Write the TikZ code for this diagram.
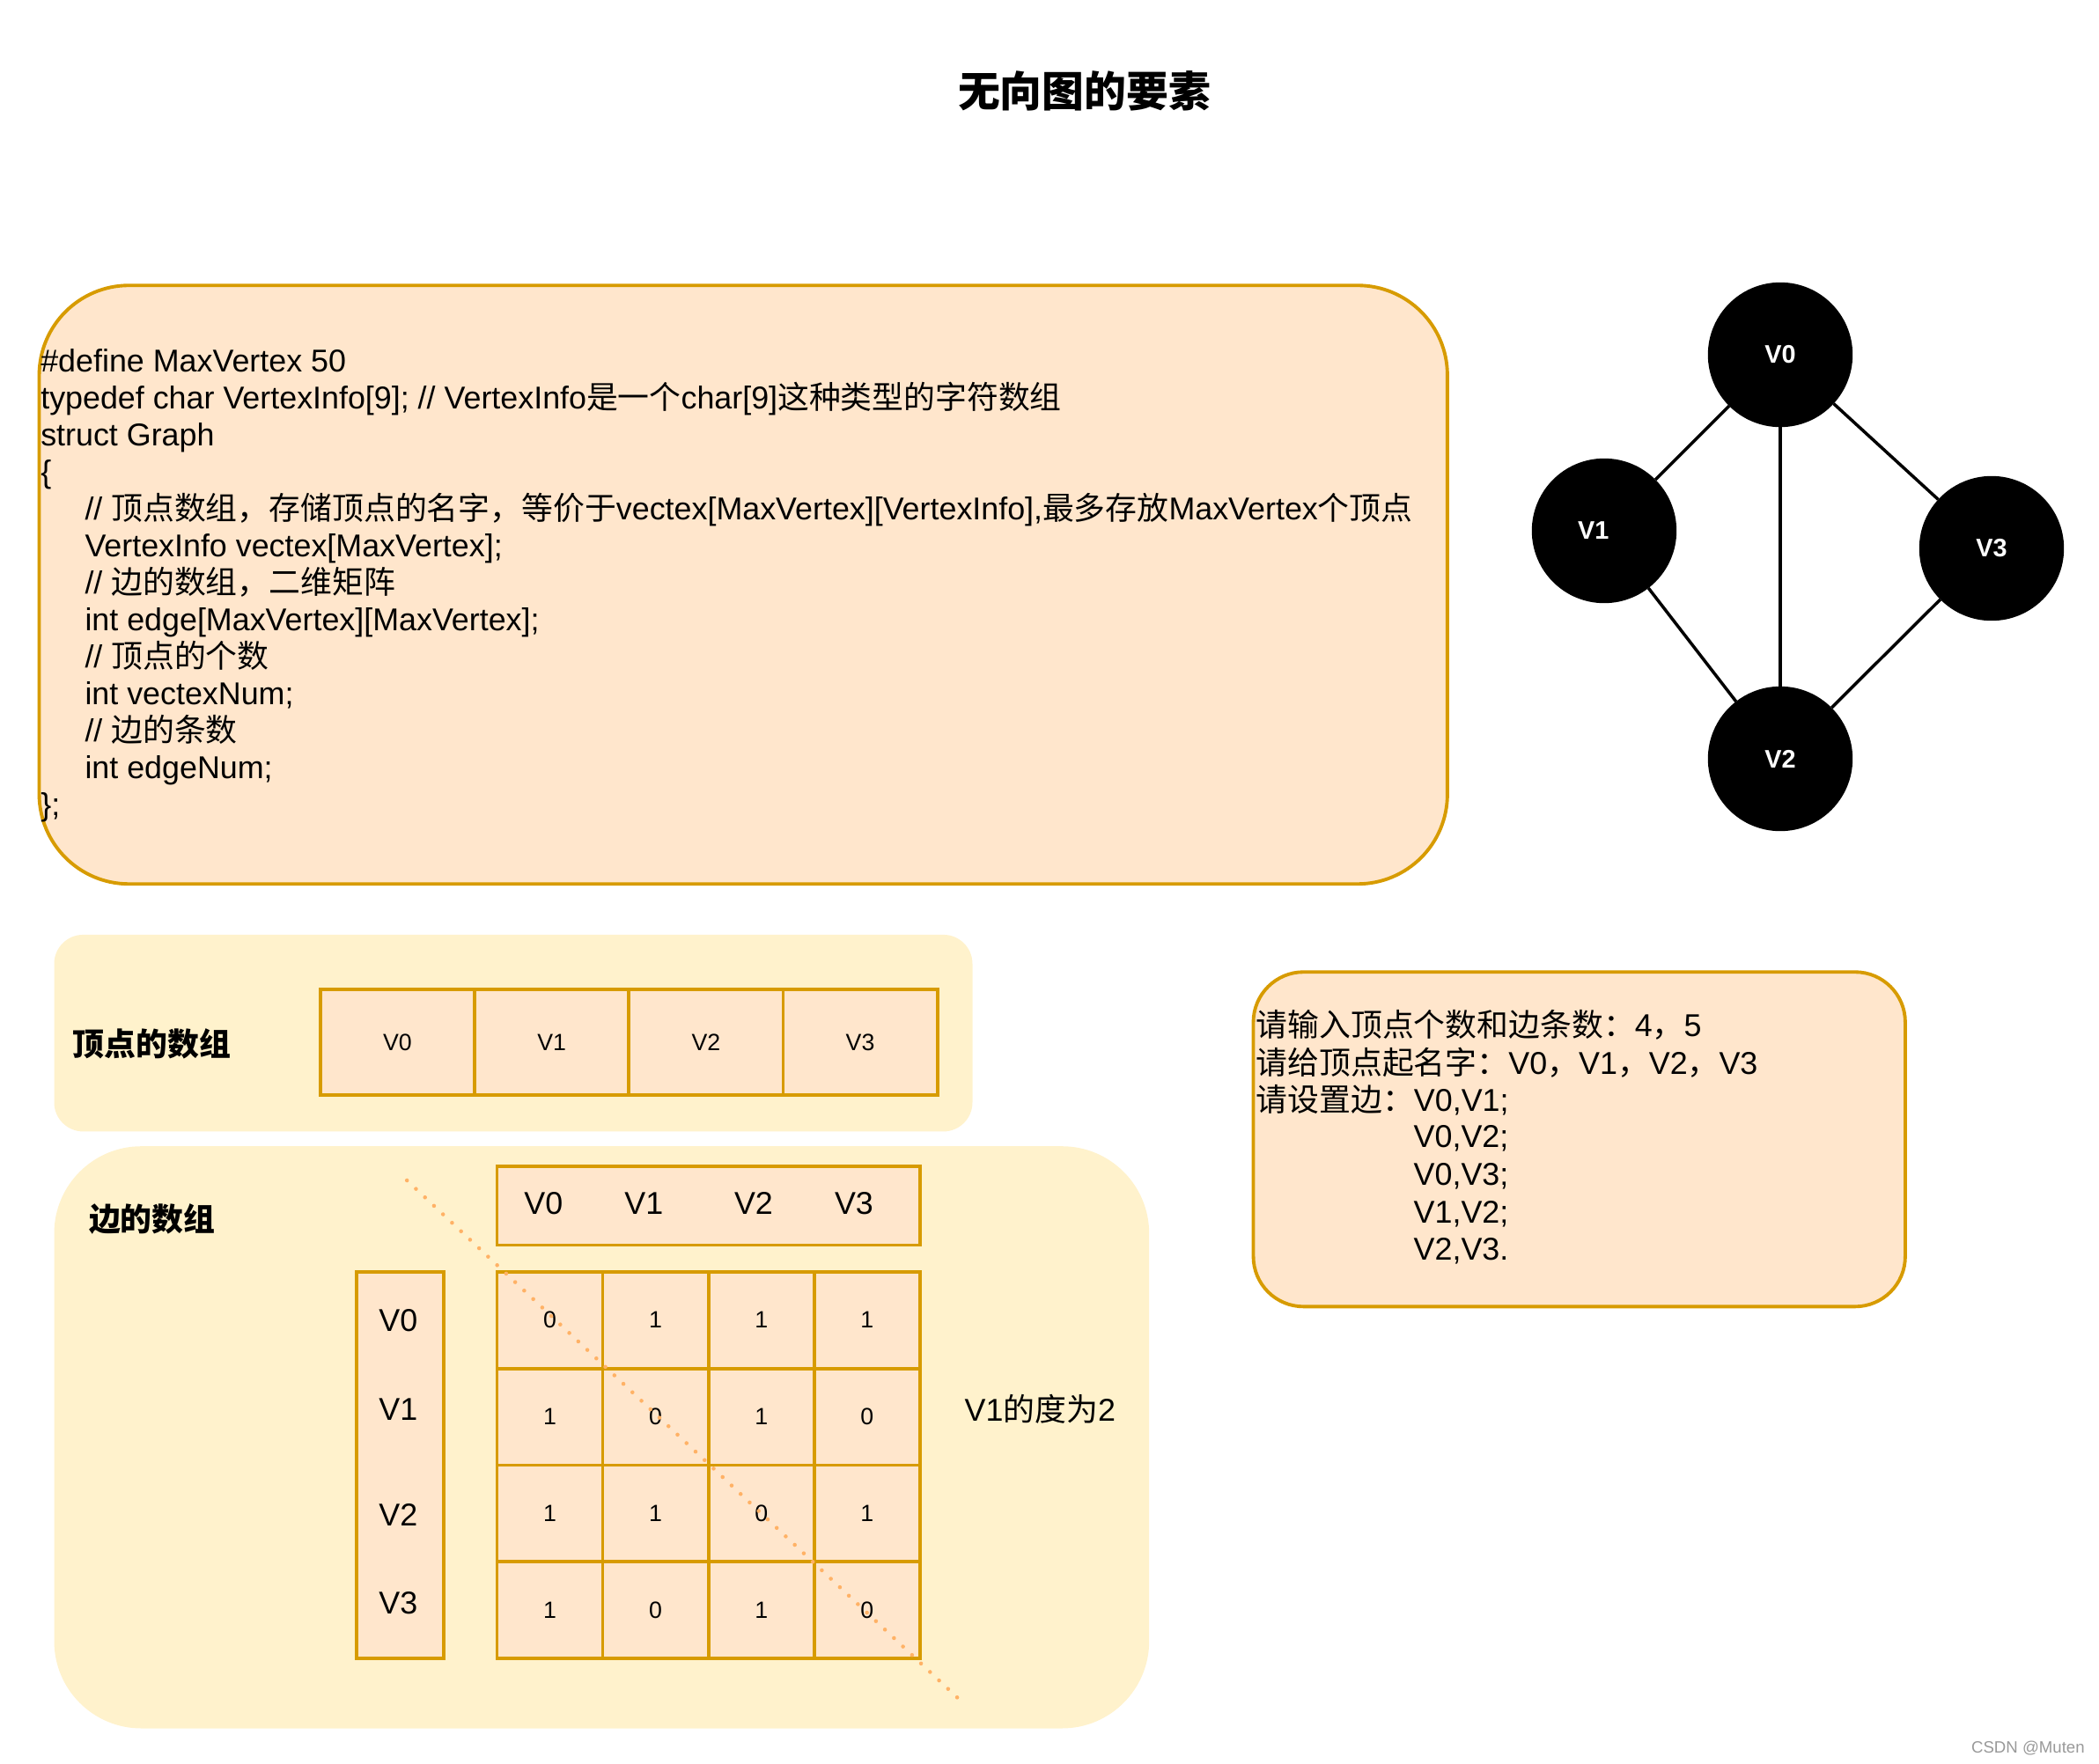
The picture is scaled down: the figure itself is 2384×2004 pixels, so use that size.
\documentclass[tikz,border=0pt]{standalone}
\usepackage{fontspec}
\setmainfont{Liberation Sans}
\newfontfamily\cjk{Noto Sans CJK SC}
\newcommand\zh[1]{{\cjk #1}}
\definecolor{peach}{RGB}{255,230,204}
\definecolor{gold}{RGB}{215,155,0}
\definecolor{cream}{RGB}{255,242,204}
\definecolor{dotorange}{RGB}{255,178,102}
\tikzset{
  txt/.style={anchor=base west, inner sep=0pt, font=\fontsize{10.2}{12}\selectfont},
  ctr/.style={inner sep=0pt, font=\fontsize{10.2}{12}\selectfont},
  boxframe/.style={draw=gold, fill=peach, line width=1.1pt, inner sep=0pt, anchor=north west},
  container/.style={fill=cream, draw=none, inner sep=0pt, anchor=north west},
  vcell/.style={boxframe, minimum width=17.52mm, minimum height=12.02mm, font=\fontsize{7.6}{9}\selectfont},
  mcell/.style={boxframe, minimum width=12.01mm, minimum height=10.985mm, font=\fontsize{7.6}{9}\selectfont},
  gnode/.style={circle, fill=black, draw=black, minimum size=16.3mm, inner sep=0pt, text=white, font=\bfseries\fontsize{8.2}{10}\selectfont},
  gedge/.style={draw=black, line width=1pt},
  dotline/.style={draw=dotorange, line width=1.3pt, dash pattern=on 0pt off 4pt, line cap=round},
  heading/.style={inner sep=0pt, font={\fontsize{10.2}{12}\selectfont\cjk\bfseries}}
}
\begin{document}
\begin{tikzpicture}[x=0.1mm,y=-0.1mm]
\useasboundingbox (0,0) rectangle (2384,2004);

% title
\node[inner sep=0pt, font={\fontsize{13.6}{16}\selectfont\cjk\bfseries}] (title) at (1231.5,103.4) {无向图的要素};

% code box
\node[boxframe, rounded corners=10.2mm, minimum width=159.94mm, minimum height=68.0mm] (code) at (42.6,322.3) {};
\node[txt] (c1)  at (45.6,422)    {\#define MaxVertex 50};
\node[txt] (c2)  at (45.6,464.05) {typedef char VertexInfo[9]; // VertexInfo\zh{是一个}char[9]\zh{这种类型的字符数组}};
\node[txt] (c3)  at (45.6,506.1)  {struct Graph};
\node[txt] (c4)  at (45.6,548.15) {\{};
\node[txt] (c5)  at (95.8,590.2)  {// \zh{顶点数组，存储顶点的名字，等价于}vectex[MaxVertex][VertexInfo],\zh{最多存放}MaxVertex\zh{个顶点}};
\node[txt] (c6)  at (95.8,632.25) {VertexInfo vectex[MaxVertex];};
\node[txt] (c7)  at (95.8,674.3)  {// \zh{边的数组，二维矩阵}};
\node[txt] (c8)  at (95.8,716.35) {int edge[MaxVertex][MaxVertex];};
\node[txt] (c9)  at (95.8,758.4)  {// \zh{顶点的个数}};
\node[txt] (c10) at (95.8,800.45) {int vectexNum;};
\node[txt] (c11) at (95.8,842.5)  {// \zh{边的条数}};
\node[txt] (c12) at (95.8,884.55) {int edgeNum;};
\node[txt] (c13) at (45.6,926.6)  {\};};

% graph
\node[gnode] (g0) at (2022,403) {V0};
\node[gnode] (g1) at (1822,603) {V1\hspace*{7pt}};
\node[gnode] (g2) at (2022,862) {V2};
\node[gnode] (g3) at (2262,623) {V3};
\draw[gedge] (g0) -- (g1);
\draw[gedge] (g0) -- (g2);
\draw[gedge] (g0) -- (g3);
\draw[gedge] (g1) -- (g2);
\draw[gedge] (g2) -- (g3);

% vertex array
\node[container, rounded corners=3.3mm, minimum width=104.3mm, minimum height=22.35mm] (vcont) at (60.8,1061.2) {};
\node[heading, anchor=west] (vlabel) at (82.1,1185.9) {顶点的数组};
\node[vcell] (va0) at (361.9,1122) {V0};
\node[vcell] (va1) at (537.1,1122) {V1};
\node[vcell] (va2) at (712.3,1122) {V2};
\node[vcell] (va3) at (887.5,1122) {V3};

% edge array
\node[container, rounded corners=9.9mm, minimum width=124.37mm, minimum height=66.13mm] (econt) at (60.8,1301.5) {};
\node[heading, anchor=west] (elabel) at (100.3,1385.1) {边的数组};
\node[boxframe, minimum width=48.05mm, minimum height=8.98mm] (hdr) at (562.5,1322.7) {};
\node[ctr] (h0) at (617.3,1366.8) {V0};
\node[ctr] (h1) at (731.3,1366.8) {V1};
\node[ctr] (h2) at (856,1366.8) {V2};
\node[ctr] (h3) at (970,1366.8) {V3};
\node[boxframe, minimum width=9.88mm, minimum height=43.94mm] (rowbox) at (402.9,1442.9) {};
\node[ctr] (r0) at (452.3,1500.6) {V0};
\node[ctr] (r1) at (452.3,1601) {V1};
\node[ctr] (r2) at (452.3,1721) {V2};
\node[ctr] (r3) at (452.3,1821.4) {V3};
\foreach \row/\vals in {0/{0,1,1,1},1/{1,0,1,0},2/{1,1,0,1},3/{1,0,1,0}} {
  \foreach \v [count=\c from 0] in \vals {
    \node[mcell] (m\row\c) at ({562.5+120.1*\c},{1442.9+109.85*\row}) {\v};
  }
}
\coordinate (d1) at (462.2,1341);
\coordinate (d2) at (1094.7,1935.5);
\draw[dotline] (d1) -- (d2);
\node[ctr] (deg) at (1181.3,1601) {V1\zh{的度为}2};

% input box
\node[boxframe, rounded corners=5.7mm, minimum width=74.04mm, minimum height=38.01mm] (inbox) at (1421.6,1102.3) {};
\node[txt] (i1) at (1426,1177.5) {\zh{请输入顶点个数和边条数：}4\zh{，}5};
\node[txt] (i2) at (1426,1220)   {\zh{请给顶点起名字：}V0\zh{，}V1\zh{，}V2\zh{，}V3};
\node[txt] (i3) at (1426,1262.7) {\zh{请设置边：}V0,V1;};
\node[txt] (i4) at (1605,1303.7) {V0,V2;};
\node[txt] (i5) at (1605,1346.3) {V0,V3;};
\node[txt] (i6) at (1605,1389)   {V1,V2;};
\node[txt] (i7) at (1605,1431.4) {V2,V3.};

% watermark
\node[inner sep=0pt, text=black!40, font=\fontsize{5.3}{6}\selectfont] (wm) at (2303.4,1985.7) {CSDN @Muten};
\end{tikzpicture}
\end{document}
